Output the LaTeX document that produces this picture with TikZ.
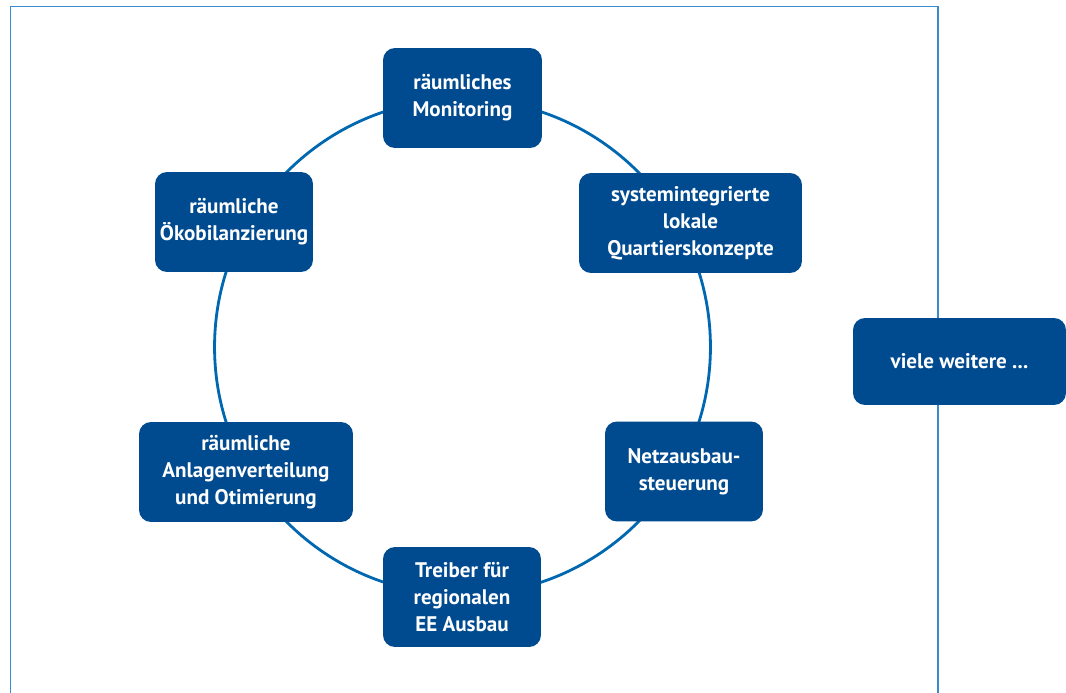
\documentclass[tikz,border=0pt]{standalone}
\usepackage{fontspec}
\setmainfont{PT Sans}
\definecolor{boxBlue}{RGB}{0,74,143}
\definecolor{ringBlue}{RGB}{0,104,176}
\definecolor{frameBlue}{RGB}{58,138,206}

\begin{document}
\begin{tikzpicture}[x=0.02cm, y=-0.02cm,
    topic/.style={rounded corners=6.8pt, fill=boxBlue, text=white, minimum height=2cm,
    inner sep=0pt, align=center, font=\bfseries\fontsize{12}{15.4}\selectfont},
    ring/.style={draw=ringBlue, line width=1.6pt},
    frame/.style={draw=frameBlue, line width=1pt}
  ]
  \clip (0,0) rectangle (1066,693);
  \draw[frame] (10.5,6.5) rectangle (938,720);

  % ring behind the topics
  \coordinate (hub) at (462.5,347);
  \draw[ring] (hub) circle[radius=4.96cm];

  \node[topic, minimum width=3.18cm] (monitoring) at (462.5,98) {räumliches\\Monitoring};
  \node[topic, minimum width=4.46cm] (quartier) at (690.5,223) {systemintegrierte\\lokale\\Quartierskonzepte};
  \node[topic, minimum width=3.16cm] (netz) at (684,471.5) {Netzausbau-\\steuerung};
  \node[topic, minimum width=3.16cm] (treiber) at (462,597) {Treiber für\\regionalen\\EE Ausbau};
  \node[topic, minimum width=4.28cm] (anlagen) at (246,472) {räumliche\\Anlagenverteilung\\und Otimierung};
  \node[topic, minimum width=3.16cm] (oeko) at (234,222) {räumliche\\Ökobilanzierung};

  \node[topic, minimum width=4.26cm, minimum height=1.74cm] (weitere) at (959.5,361.5) {viele weitere ...};
\end{tikzpicture}
\end{document}
